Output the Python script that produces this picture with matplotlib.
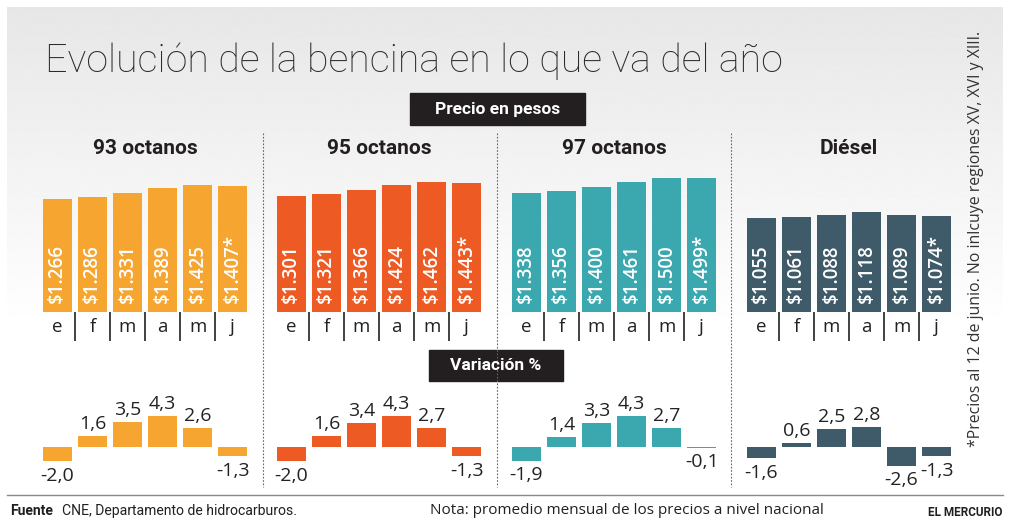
import matplotlib
matplotlib.use('Agg')
import matplotlib.pyplot as plt
from matplotlib.patches import Rectangle
import numpy as np

W, H = 1009, 519

# -- DATA --
months = ['e', 'f', 'm', 'a', 'm', 'j']
fuels = ['93 octanos', '95 octanos', '97 octanos', 'Diésel']
colors = ['#f6a531', '#ee5a24', '#3ba7ae', '#3f5a68']

price_93 = [1266, 1286, 1331, 1389, 1425, 1407]
price_95 = [1301, 1321, 1366, 1424, 1462, 1443]
price_97 = [1338, 1356, 1400, 1461, 1500, 1499]
price_diesel = [1055, 1061, 1088, 1118, 1089, 1074]

var_93 = [-2.0, 1.6, 3.5, 4.3, 2.6, -1.3]
var_95 = [-2.0, 1.6, 3.4, 4.3, 2.7, -1.3]
var_97 = [-1.9, 1.4, 3.3, 4.3, 2.7, -0.1]
var_diesel = [-1.6, 0.6, 2.5, 2.8, -2.6, -1.3]

# June is a partial month (prices to June 12th)
partial = [False, False, False, False, False, True]

prices = [price_93, price_95, price_97, price_diesel]
variations = [var_93, var_95, var_97, var_diesel]

# -- LAYOUT (pixels) --
panel_left = [43, 277, 512, 747]   # left edge of first bar in each panel
pitch = 35.05
bar_w = 0.82
NUM = 'Open Sans'
HEAD = 'Roboto'
DARK = '#231f20'


def px_axes(fig, x0, y0, x1, y1):
    return fig.add_axes([x0 / W, 1 - y1 / H, (x1 - x0) / W, (y1 - y0) / H])


def fit(fig, txt, target):
    """Resize a text so that its long side matches target pixels"""
    fig.canvas.draw()
    bb = txt.get_window_extent()
    size = max(bb.width, bb.height)
    txt.set_fontsize(txt.get_fontsize() * target / size)


fig = plt.figure(figsize=(W / 100, H / 100), dpi=100)

# -- BACKGROUND LAYER --
bg = fig.add_axes([0, 0, 1, 1])
bg.set_zorder(0)
grad = np.linspace(0.905, 1.0, 200).reshape(-1, 1)
bg.imshow(grad, extent=(7, 1003, 330, 7), aspect='auto', cmap='gray',
          vmin=0, vmax=1, interpolation='bilinear')
bg.set_xlim(0, W)
bg.set_ylim(H, 0)
bg.axis('off')

title = bg.text(45, 72, 'Evolución de la bencina en lo que va del año',
                fontsize=32, family=HEAD, weight='light', color='#2b2b2b',
                va='baseline', ha='left')
fit(fig, title, 740)

bg.add_patch(Rectangle((410, 93), 175, 32, color=DARK))
bg.text(497.5, 109.5, 'Precio en pesos', color='white', fontsize=12.5,
        family=HEAD, weight='bold', ha='center', va='center')
bg.add_patch(Rectangle((429, 350), 134, 31, color=DARK))
bg.text(496, 366, 'Variación %', color='white', fontsize=12.5,
        family=HEAD, weight='bold', ha='center', va='center')

# dotted dividers between panels
for x in [263, 497, 731]:
    bg.plot([x, x], [133, 487], color='#666666', lw=0.8,
            ls=(0, (1.5, 1.5)))

# footer
bg.plot([7, 1003], [495, 495], color='#8a8a8a', lw=1)
bg.text(10, 511, 'Fuente', fontsize=10, family=HEAD, weight='bold',
        color=DARK, va='center')
src = bg.text(62, 511, 'CNE, Departamento de hidrocarburos.', fontsize=10,
              family=HEAD, color=DARK, va='center')
fit(fig, src, 235)
nota = bg.text(430, 511, 'Nota: promedio mensual de los precios a nivel nacional',
               fontsize=11, family=NUM, color=DARK, va='center')
fit(fig, nota, 392)
bg.text(1002, 512, 'EL MERCURIO', fontsize=8.5, family=HEAD, weight='bold',
        color=DARK, ha='right', va='center')

note = bg.text(976, 447, '*Precios al 12 de junio. No inlcuye regiones XV, XVI y XIII.',
               rotation=90, fontsize=10.5, family=NUM, color='#333333',
               ha='center', va='bottom')
fit(fig, note, 418)

# -- PANELS --
for k in range(4):
    left = panel_left[k]
    ax_x0 = left - (0.5 - bar_w / 2) * pitch
    ax_x1 = ax_x0 + 6 * pitch
    x = np.arange(len(months))

    bg.text(left + 5.82 * pitch / 2, 148, fuels[k], fontsize=15, family=HEAD,
            weight='bold', color=DARK, ha='center', va='center')

    # prices
    ax = px_axes(fig, ax_x0, 312 - 1600 * 0.0892, ax_x1, 312)
    ax.set_zorder(1)
    ax.patch.set_alpha(0)
    ax.bar(x, prices[k], width=bar_w, color=colors[k])
    ax.set_xlim(-0.5, 5.5)
    ax.set_ylim(0, 1600)
    for i, p in enumerate(prices[k]):
        lab = '$' + f'{p:,}'.replace(',', '.') + ('*' if partial[i] else '')
        ax.text(i, 105, lab, rotation=90, color='white', fontsize=13.5,
                family=NUM, weight='semibold', ha='center', va='bottom')
    ax.set_xticks(x, months)
    ax.tick_params(length=0, pad=4, labelsize=13.5, colors='#222222')
    for t in ax.get_xticklabels():
        t.set_family(NUM)
    ax.vlines(x[:-1] + 0.5, 0, -0.2, transform=ax.get_xaxis_transform(),
              clip_on=False, color='#333333', lw=1.3)
    ax.set_yticks([])
    for s in ax.spines.values():
        s.set_visible(False)

    # variation %
    av = px_axes(fig, ax_x0, 447 - 5 * 7.15, ax_x1, 447 + 3 * 7.15)
    av.set_zorder(1)
    av.patch.set_alpha(0)
    av.bar(x, variations[k], width=bar_w, color=colors[k])
    av.set_xlim(-0.5, 5.5)
    av.set_ylim(-3, 5)
    for i, v in enumerate(variations[k]):
        lab = f'{v:.1f}'.replace('.', ',')
        if v >= 0:
            av.annotate(lab, (i, v), xytext=(0, 5), textcoords='offset points',
                        ha='center', va='baseline', fontsize=14, family=NUM,
                        color='#222222', annotation_clip=False)
        else:
            av.annotate(lab, (i, v), xytext=(0, -4), textcoords='offset points',
                        ha='center', va='top', fontsize=14, family=NUM,
                        color='#222222', annotation_clip=False)
    av.axis('off')

plt.savefig('out.png', dpi=100)
plt.close(fig)
